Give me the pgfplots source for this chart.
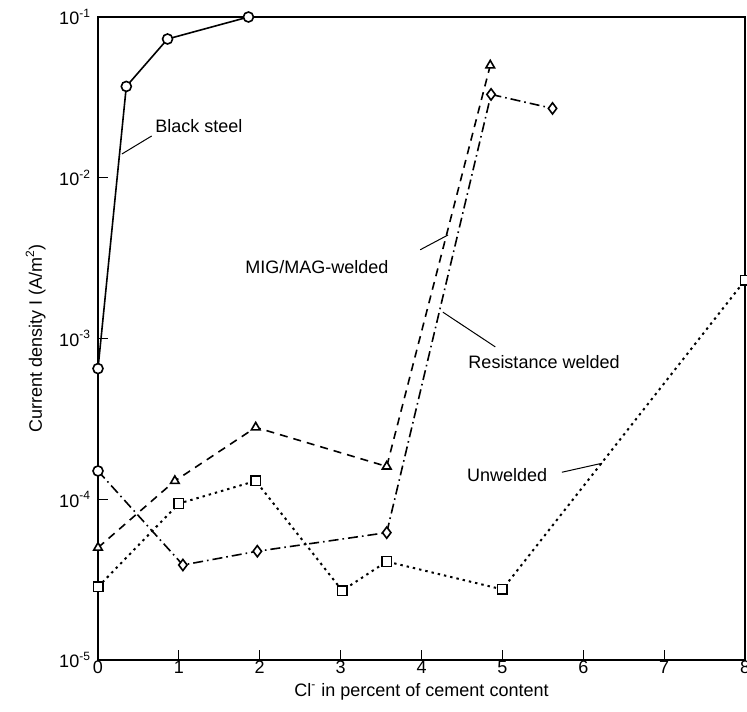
\documentclass[border=0pt]{standalone}
\usepackage{pgfplots}
\pgfplotsset{compat=1.18}
\usepackage{fontspec}
\setmainfont{Liberation Sans}
\begin{document}
\begin{tikzpicture}
\begin{axis}[
  scale only axis,
  width=323.5pt, height=321.5pt,
  ymode=log,
  xmin=0, xmax=8, ymin=1e-5, ymax=1e-1,
  xtick={0,1,2,3,4,5,6,7,8},
  ytick={1e-5,1e-4,1e-3,1e-2,1e-1},
  yticklabels={10\textsuperscript{-5},10\textsuperscript{-4},10\textsuperscript{-3},10\textsuperscript{-2},10\textsuperscript{-1}},
  minor tick num=0,
  yminorticks=false,
  tick align=inside,
  major tick length=5pt,
  xtick pos=bottom, ytick pos=left,
  tick style={black, line width=0.6pt},
  axis line style={line width=0.7pt},
  /pgf/number format/assume math mode=true,
  ticklabel style={font=\fontsize{9}{10}\selectfont},
  xticklabel style={inner sep=1pt, yshift=0.5pt},
  label style={font=\fontsize{9}{10}\selectfont},
  xlabel={Cl\textsuperscript{-} in percent of cement content},
  ylabel={Current density I (A/m\textsuperscript{2})},
  xlabel style={inner sep=1pt, yshift=-2.5pt},
  clip=false,
]
% Black steel
\addplot[black, line width=0.8pt, mark=*, mark size=2.5pt, mark options={solid, fill=white}]
coordinates {(0,1.5e-4) (0,6.5e-4) (0.35,0.037) (0.86,0.073) (1.86,0.1)};
% MIG/MAG-welded
\addplot[black, line width=0.8pt, dash pattern=on 4pt off 3pt, mark=triangle*, mark size=2.5pt, mark options={solid, fill=white}]
coordinates {(0,5e-5) (0.95,1.3e-4) (1.95,2.8e-4) (3.57,1.6e-4) (4.85,0.05)};
% Resistance welded
\addplot[black, line width=0.8pt, dash pattern=on 5pt off 2pt on 0.8pt off 2pt, mark=diamond*, mark size=2.8pt, mark indices={2,3,4,5,6}, mark options={solid, fill=white}]
coordinates {(0,1.5e-4) (1.05,3.9e-5) (1.97,4.75e-5) (3.57,6.2e-5) (4.86,0.033) (5.62,0.027)};
% Unwelded
\addplot[black, line width=1pt, dash pattern=on 1.2pt off 2pt, mark=square*, mark size=2.4pt, mark options={solid, fill=white, line width=0.7pt}]
coordinates {(0,2.85e-5) (1,9.4e-5) (1.95,1.3e-4) (3.02,2.7e-5) (3.57,4.1e-5) (5.0,2.75e-5) (8,2.3e-3)};
% annotations
\node[anchor=west, font=\fontsize{9}{10}\selectfont, inner sep=0pt] at (rel axis cs:0.088,0.830) {Black steel};
\draw[line width=0.5pt] (rel axis cs:0.083,0.815) -- (rel axis cs:0.037,0.787);
\node[anchor=west, font=\fontsize{9}{10}\selectfont, inner sep=0pt] at (rel axis cs:0.227,0.611) {MIG/MAG-welded};
\draw[line width=0.5pt] (rel axis cs:0.498,0.638) -- (rel axis cs:0.541,0.661);
\node[anchor=west, font=\fontsize{9}{10}\selectfont, inner sep=0pt] at (rel axis cs:0.572,0.463) {Resistance welded};
\draw[line width=0.5pt] (rel axis cs:0.533,0.541) -- (rel axis cs:0.614,0.487);
\node[anchor=west, font=\fontsize{9}{10}\selectfont, inner sep=0pt] at (rel axis cs:0.570,0.288) {Unwelded};
\draw[line width=0.5pt] (rel axis cs:0.717,0.292) -- (rel axis cs:0.779,0.306);
\coordinate (sw) at (rel axis cs:0,0);
\coordinate (ne) at (rel axis cs:1,1);
\end{axis}
\pgfresetboundingbox
\path[use as bounding box] ([shift={(-49pt,-25.5pt)}]sw) rectangle ([shift={(1pt,8.5pt)}]ne);
\end{tikzpicture}
\end{document}
